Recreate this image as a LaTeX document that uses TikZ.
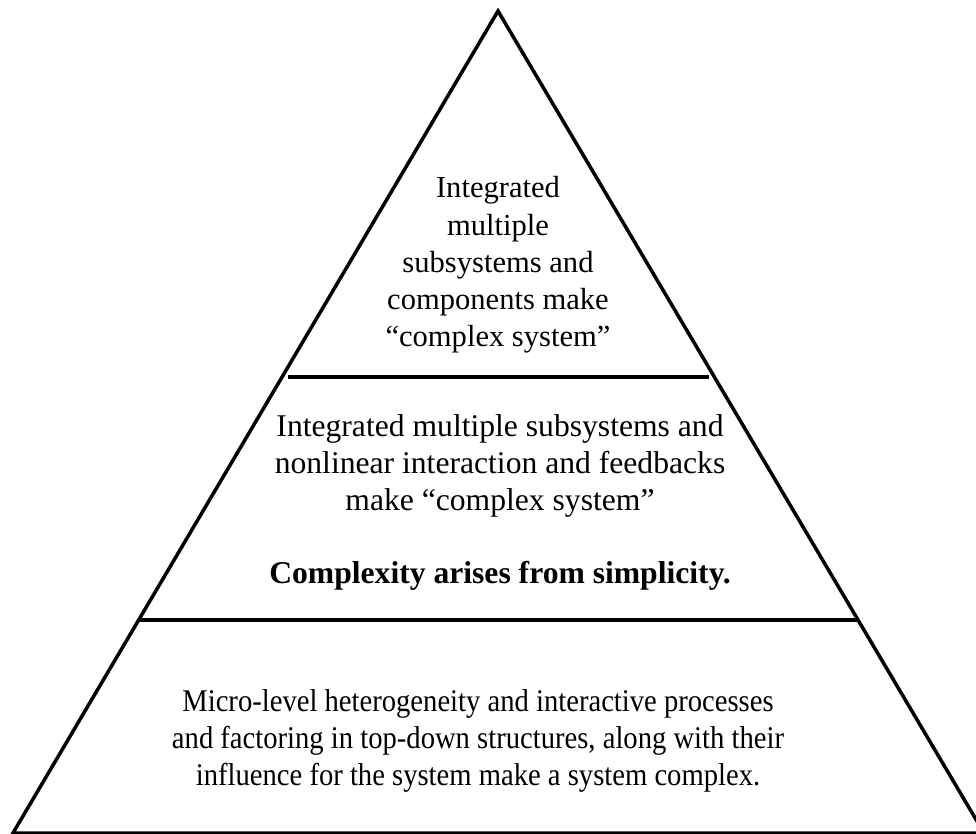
\documentclass[tikz,border=0pt]{standalone}
\usepackage{fontspec}
\setmainfont{Liberation Serif}
\usetikzlibrary{positioning}

\begin{document}
\begin{tikzpicture}
	[x=0.02cm,y=-0.02cm,
	side/.style={black,line width=2pt,line join=miter},
	divider/.style={black,line width=2.8pt},
	label/.style={align=center,inner sep=0pt,font=\fontsize{18}{21.2}\selectfont}]
	\useasboundingbox (0,0) rectangle (976,833);
	\clip (0,0) rectangle (976,833);
	%corners of the pyramid
	\coordinate (apex) at (498,11);
	\coordinate (bl) at (13,833);
	\coordinate (br) at (984,833);
	\draw[side] (bl) -- (apex) -- (br) -- cycle;
	%levels
	\coordinate (d1l) at (288,377);
	\coordinate (d1r) at (709,377);
	\coordinate (d2l) at (139,620);
	\coordinate (d2r) at (858,620);
	\draw[divider] (d1l) -- (d1r);
	\draw[divider] (d2l) -- (d2r);
	%texts
	\node[label,font=\fontsize{17.4}{21.2}\selectfont] (top) at (498,265) {Integrated\\multiple\\subsystems and\\components make\\``complex system''};
	\node[label] (mid) at (500,466) {Integrated multiple subsystems and\\nonlinear interaction and feedbacks\\make ``complex system''};
	\node[label,font=\fontsize{18}{21.2}\selectfont\bfseries] (motto) at (500,576) {Complexity arises from simplicity.};
	\node[label,xscale=0.905] (base) at (478,741) {Micro-level heterogeneity and interactive processes\\and factoring in top-down structures, along with their\\influence for the system make a system complex.};
\end{tikzpicture}
\end{document}
